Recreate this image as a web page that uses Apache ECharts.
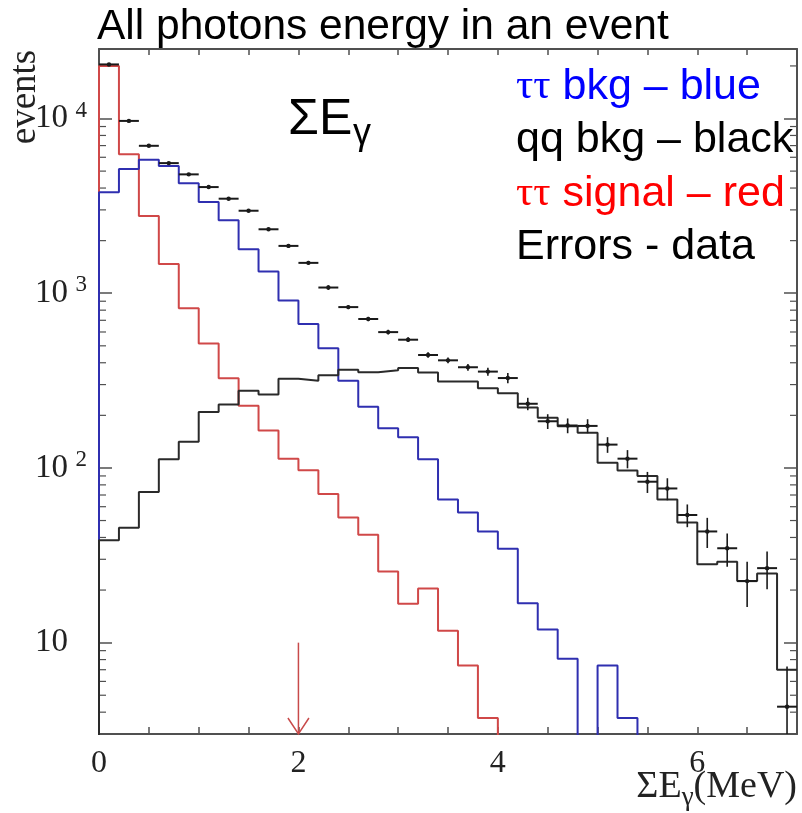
<!DOCTYPE html>
<html>
<head>
<meta charset="utf-8">
<title>All photons energy in an event</title>
<script src="https://cdn.jsdelivr.net/npm/echarts@6/dist/echarts.min.js"></script>
<style>
  html, body { margin: 0; padding: 0; background: #ffffff; }
  #chart { width: 802px; height: 813px; }
</style>
</head>
<body>
<div id="chart"></div>
<script>
// Sum of photon energies per event, 35 bins of 0.2 MeV between 0 and 7 MeV.
const BIN_WIDTH = 0.2;
const binLow = [
  0.0, 0.2, 0.4, 0.6, 0.8, 1.0, 1.2, 1.4, 1.6, 1.8,
  2.0, 2.2, 2.4, 2.6, 2.8, 3.0, 3.2, 3.4, 3.6, 3.8,
  4.0, 4.2, 4.4, 4.6, 4.8, 5.0, 5.2, 5.4, 5.6, 5.8,
  6.0, 6.2, 6.4, 6.6, 6.8
];

// tau-tau signal (red)
const tauSignal = [
  20000, 6250, 2770, 1470, 820, 515, 326, 227, 164, 113,
  97, 71, 52, 41.5, 25.5, 16.7, 20.4, 11.7, 7.4, 3.7,
  0, 0, 0, 0, 0, 0, 0, 0, 0, 0,
  0, 0, 0, 0, 0
];

// tau-tau background (blue)
const tauBkg = [
  3780, 5135, 5800, 5344, 4255, 3327, 2615, 1786, 1330, 908,
  666, 485, 316, 224, 169, 150, 112, 66, 55.5, 43.3,
  34.5, 16.8, 11.9, 8.1, 0, 7.4, 3.7, 0, 0, 0,
  0, 0, 0, 0, 0
];

// q-qbar background (black)
const qqBkg = [
  38.5, 45.5, 72.8, 112, 141, 209, 231, 277, 263, 324,
  316, 339, 365, 353, 362, 373, 352, 312, 312, 286,
  268, 222, 194, 173, 159, 107, 96.8, 89.8, 66, 48.7,
  28.1, 29, 22.5, 24.9, 7.0
];

// measured events with their errors
const dataCounts = [
  20400, 9690, 6980, 5556, 4790, 4052, 3476, 2966, 2323, 1866,
  1492, 1078, 833, 712, 599, 542, 443, 413, 377, 356,
  327, 233, 185, 175, 174, 136, 113, 83.4, 76.3, 53.8,
  43.3, 34.7, 22.5, 26.7, 4.3
];
const dataErrors = [
  140, 98, 84, 75, 69, 64, 59, 54, 48, 43,
  39, 33, 22, 20, 18, 17, 16, 16, 17, 19,
  22, 19, 18, 17, 16, 14, 13.5, 11.5, 11, 8,
  8.5, 7.5, 6.5, 6.5, 3
];

// axis ranges and labels
const X_MIN = 0, X_MAX = 7, X_TICK_STEP = 0.5;
const xLabelValues = [0, 2, 4, 6];
const Y_MIN = 3, Y_MAX = 25000;
const yLabelExponents = [1, 2, 3, 4];

// selection cut marked by the arrow
const CUT_ENERGY = 2;
const CUT_ARROW_TOP = 10;

// empty bins sit below the visible log range
const EMPTY_FLOOR = 1;

const SERIF = '"Liberation Serif", "DejaVu Serif", serif';
const SANS = '"Liberation Sans", Arial, sans-serif';
const FRAME = '#505050';

// minor ticks 2..9 of every decade inside the range
const minorTickValues = [];
for (let d = 1; d <= 10000; d *= 10) {
  for (let k = 2; k <= 9; k++) {
    const v = k * d;
    if (v > Y_MIN && v < Y_MAX) minorTickValues.push(v);
  }
}

function histPoints(values) {
  const pts = [[binLow[0], EMPTY_FLOOR]];
  values.forEach((v, i) => pts.push([binLow[i], v > 0 ? v : EMPTY_FLOOR]));
  const last = values.length - 1;
  pts.push([binLow[last] + BIN_WIDTH, values[last] > 0 ? values[last] : EMPTY_FLOOR]);
  return pts;
}

function histSeries(name, values, color) {
  return {
    name: name,
    type: 'line',
    step: 'end',
    data: histPoints(values),
    symbol: 'none',
    showSymbol: false,
    clip: true,
    lineStyle: { color: color, width: 2 },
    z: 3
  };
}

const dataPoints = dataCounts.map((v, i) => [binLow[i] + BIN_WIDTH / 2, v, dataErrors[i]]);

function renderErrorBar(params, api) {
  const x = api.value(0), y = api.value(1), e = api.value(2);
  const c = api.coord([x, y]);
  const l = api.coord([x - BIN_WIDTH / 2, y]);
  const r = api.coord([x + BIN_WIDTH / 2, y]);
  const t = api.coord([x, y + e]);
  const b = api.coord([x, Math.max(y - e, 0.05)]);
  const ink = '#1a1a1a';
  return {
    type: 'group',
    children: [
      { type: 'line', shape: { x1: l[0], y1: c[1], x2: r[0], y2: c[1] }, style: { stroke: ink, lineWidth: 2 } },
      { type: 'line', shape: { x1: c[0], y1: t[1], x2: c[0], y2: b[1] }, style: { stroke: ink, lineWidth: 1.6 } },
      { type: 'circle', shape: { cx: c[0], cy: c[1], r: 2.2 }, style: { fill: ink } }
    ]
  };
}

function renderMinorTick(params, api) {
  const p = api.coord([X_MIN, api.value(1)]);
  const cs = params.coordSys;
  const style = { stroke: FRAME, lineWidth: 1.2 };
  return {
    type: 'group',
    children: [
      { type: 'line', shape: { x1: cs.x, y1: p[1], x2: cs.x + 7, y2: p[1] }, style: style },
      { type: 'line', shape: { x1: cs.x + cs.width - 7, y1: p[1], x2: cs.x + cs.width, y2: p[1] }, style: style }
    ]
  };
}

function renderArrow(params, api) {
  const top = api.coord([api.value(0), api.value(1)]);
  const cs = params.coordSys;
  const bottom = cs.y + cs.height;
  const x = top[0];
  const style = { stroke: '#c84a4a', lineWidth: 1.5, fill: null };
  return {
    type: 'group',
    children: [
      { type: 'line', shape: { x1: x, y1: top[1], x2: x, y2: bottom }, style: style },
      { type: 'polyline', shape: { points: [[x - 10.5, bottom - 16], [x, bottom], [x + 10.5, bottom - 16]] }, style: style }
    ]
  };
}

function yLabel(value) {
  const lg = Math.log10(value);
  const e = Math.round(lg);
  if (Math.abs(lg - e) > 1e-6 || yLabelExponents.indexOf(e) < 0) return '';
  return e === 1 ? '{b|10}{s| }' : '{b|10}{s|' + e + '}';
}

function xLabel(value) {
  for (const v of xLabelValues) {
    if (Math.abs(value - v) < 1e-6) return String(v);
  }
  return '';
}

const axisLineStyle = { show: true, onZero: false, lineStyle: { color: FRAME, width: 2 } };

const chart = echarts.init(document.getElementById('chart'), null, { renderer: 'canvas' });

chart.setOption({
  animation: false,
  backgroundColor: '#ffffff',
  grid: { left: 99, top: 49, right: 5, bottom: 79, containLabel: false, outerBoundsMode: 'none' },
  xAxis: [
    {
      type: 'value', min: X_MIN, max: X_MAX, interval: X_TICK_STEP, position: 'bottom',
      axisLine: axisLineStyle,
      axisTick: { show: true, inside: true, length: 7, lineStyle: { color: FRAME, width: 1.5 } },
      axisLabel: { formatter: xLabel, fontFamily: SERIF, fontSize: 32, color: '#222', margin: 14 },
      splitLine: { show: false }
    },
    {
      type: 'value', min: X_MIN, max: X_MAX, interval: X_TICK_STEP, position: 'top',
      axisLine: axisLineStyle,
      axisTick: { show: true, inside: true, length: 6, lineStyle: { color: FRAME, width: 1.5 } },
      axisLabel: { show: false },
      splitLine: { show: false }
    }
  ],
  yAxis: [
    {
      type: 'log', logBase: 10, min: Y_MIN, max: Y_MAX, position: 'left',
      axisLine: axisLineStyle,
      axisTick: { show: true, inside: true, length: 13, lineStyle: { color: FRAME, width: 1.5 } },
      axisLabel: {
        formatter: yLabel, margin: 12, color: '#222',
        rich: {
          b: { fontFamily: SERIF, fontSize: 33, color: '#222' },
          s: { fontFamily: SERIF, fontSize: 23, color: '#222', width: 14, padding: [0, 0, 16, 5] }
        }
      },
      splitLine: { show: false }
    },
    {
      type: 'log', logBase: 10, min: Y_MIN, max: Y_MAX, position: 'right',
      axisLine: axisLineStyle,
      axisTick: { show: true, inside: true, length: 13, lineStyle: { color: FRAME, width: 1.5 } },
      axisLabel: { show: false },
      splitLine: { show: false }
    }
  ],
  series: [
    {
      name: 'minor ticks', type: 'custom', renderItem: renderMinorTick, clip: false,
      data: minorTickValues.map(v => [X_MIN, v]), encode: { x: 0, y: 1 }, silent: true, z: 1
    },
    histSeries('ττ signal', tauSignal, '#d04848'),
    histSeries('ττ bkg', tauBkg, '#2f2fb0'),
    histSeries('qq bkg', qqBkg, '#2a2a2a'),
    {
      name: 'data', type: 'custom', renderItem: renderErrorBar, clip: true,
      data: dataPoints, encode: { x: 0, y: 1 }, z: 5
    },
    {
      name: 'cut', type: 'custom', renderItem: renderArrow, clip: false,
      data: [[CUT_ENERGY, CUT_ARROW_TOP]], encode: { x: 0, y: 1 }, z: 4
    }
  ],
  graphic: [
    {
      type: 'text', x: 97, y: 27,
      style: { text: 'All photons energy in an event', fontFamily: SANS, fontSize: 42.5, fill: '#000',
        align: 'left', verticalAlign: 'middle', textAlign: 'left', textVerticalAlign: 'middle' }
    },
    {
      type: 'text', x: 25, y: 97, rotation: Math.PI / 2,
      style: { text: 'events', fontFamily: SERIF, fontSize: 37, fill: '#222',
        align: 'center', verticalAlign: 'middle', textAlign: 'center', textVerticalAlign: 'middle' }
    },
    {
      type: 'text', x: 288, y: 120,
      style: { text: 'ΣE', fontFamily: SANS, fontSize: 50, fill: '#000',
        align: 'left', verticalAlign: 'middle', textAlign: 'left', textVerticalAlign: 'middle' }
    },
    {
      type: 'text', x: 353, y: 134,
      style: { text: 'γ', fontFamily: SANS, fontSize: 36, fill: '#000',
        align: 'left', verticalAlign: 'middle', textAlign: 'left', textVerticalAlign: 'middle' }
    },
    {
      type: 'text', x: 516, y: 87,
      style: {
        text: '{t|ττ}{s| bkg – blue}', align: 'left', verticalAlign: 'middle', textAlign: 'left', textVerticalAlign: 'middle',
        rich: { t: { fontFamily: SERIF, fontSize: 43, fill: '#0000ff' }, s: { fontFamily: SANS, fontSize: 43, fill: '#0000ff' } }
      }
    },
    {
      type: 'text', x: 516, y: 140,
      style: { text: 'qq bkg – black', fontFamily: SANS, fontSize: 43, fill: '#000',
        align: 'left', verticalAlign: 'middle', textAlign: 'left', textVerticalAlign: 'middle' }
    },
    {
      type: 'text', x: 516, y: 194,
      style: {
        text: '{t|ττ}{s| signal – red}', align: 'left', verticalAlign: 'middle', textAlign: 'left', textVerticalAlign: 'middle',
        rich: { t: { fontFamily: SERIF, fontSize: 43, fill: '#ff0000' }, s: { fontFamily: SANS, fontSize: 43, fill: '#ff0000' } }
      }
    },
    {
      type: 'text', x: 516, y: 247,
      style: { text: 'Errors - data', fontFamily: SANS, fontSize: 43, fill: '#000',
        align: 'left', verticalAlign: 'middle', textAlign: 'left', textVerticalAlign: 'middle' }
    },
    {
      type: 'text', x: 797, y: 787,
      style: {
        text: '{a|ΣE}{g|γ}{a|(MeV)}', align: 'right', verticalAlign: 'middle', textAlign: 'right', textVerticalAlign: 'middle',
        rich: {
          a: { fontFamily: SERIF, fontSize: 38, fill: '#222' },
          g: { fontFamily: SERIF, fontSize: 27, fill: '#222', padding: [22, 0, 0, 0] }
        }
      }
    }
  ]
});
</script>
</body>
</html>
